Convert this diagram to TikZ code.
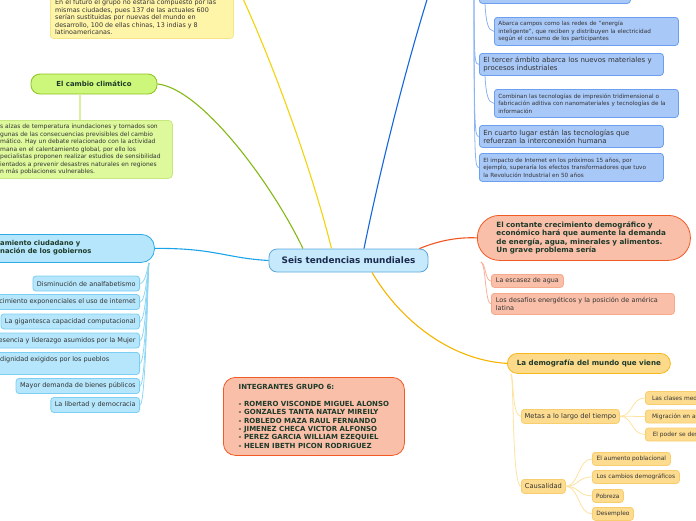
\documentclass[tikz,border=0pt]{standalone}
\usepackage{fontspec}
\setmainfont{DejaVu Sans}
\usetikzlibrary{calc}
\newcommand\fsz[2]{\fontsize{#1}{#2}\selectfont}
\definecolor{cfill}{HTML}{C6EAFC}\definecolor{cdraw}{HTML}{5BA6DD}
\definecolor{ctext}{HTML}{1B2A4E}
\definecolor{yfill}{HTML}{FFF5A8}\definecolor{ydraw}{HTML}{F5E487}\definecolor{ylink}{HTML}{F2D40C}
\definecolor{gfill}{HTML}{CCF77A}\definecolor{gdraw}{HTML}{8DC21F}\definecolor{glink}{HTML}{84B817}
\definecolor{gbfill}{HTML}{DDF99C}\definecolor{gbdraw}{HTML}{C7E77E}\definecolor{gblink}{HTML}{D9EFA3}
\definecolor{sfill}{HTML}{B5E6FB}\definecolor{sdraw}{HTML}{2EAAE6}\definecolor{slink}{HTML}{1AA3E8}
\definecolor{scdraw}{HTML}{7CCFF2}\definecolor{sclink}{HTML}{8FD6F4}
\definecolor{bfill}{HTML}{A8C8F8}\definecolor{bdraw}{HTML}{6B9FF0}\definecolor{blink}{HTML}{1466DD}
\definecolor{bclink}{HTML}{8DB4F2}
\definecolor{ofill}{HTML}{F9BFA9}\definecolor{odraw}{HTML}{F25A24}\definecolor{olink}{HTML}{F05523}
\definecolor{ocdraw}{HTML}{F7A98B}\definecolor{oclink}{HTML}{F7B09A}
\definecolor{afill}{HTML}{FDD98A}\definecolor{adraw}{HTML}{F6B81A}\definecolor{alink}{HTML}{F5B400}
\definecolor{acfill}{HTML}{FDDC90}\definecolor{acdraw}{HTML}{F8CD6E}\definecolor{aclink}{HTML}{FDE2A0}
\definecolor{boldtext}{HTML}{1E3A2A}\definecolor{normtext}{HTML}{333333}
\begin{document}
\begin{tikzpicture}[x=1pt,y=-1pt,
  box/.style={draw, line width=0.8pt, rounded corners=3pt, inner sep=0pt, text=normtext},
  txt/.style={inner sep=0pt, align=left, text=normtext},
  link/.style={line width=1.1pt},
  sublink/.style={line width=0.8pt}]
\useasboundingbox (0,0) rectangle (696,520);

\node[box, fill=cfill, draw=cdraw, rounded corners=8pt, minimum width=159pt, minimum height=23pt,
  text=ctext, font=\bfseries\fsz{8.9}{10}] (c) at (348.5,260.5) {Seis tendencias mundiales};

% yellow box (top left)
\node[box, fill=yfill, draw=ydraw, anchor=north west, minimum width=183pt, minimum height=60pt] (y1) at (50,-22) {};
\node[txt, anchor=north west, font=\fsz{6.4}{7.6}] (y1t) at (55,-0.9)
{En el futuro el grupo no estaría compuesto por las\\
mismas ciudades, pues 137 de las actuales 600\\
serían sustituidas por nuevas del mundo en\\
desarrollo, 100 de ellas chinas, 13 indias y 8\\
latinoamericanas.};
\coordinate (ytop) at (238,-12);

% green
\node[box, fill=gfill, draw=gdraw, rounded corners=9pt, minimum width=126pt, minimum height=20pt,
  text=boldtext, font=\bfseries\fsz{6.9}{8}] (g) at (94,84) {El cambio climático};
\node[box, fill=gbfill, draw=gbdraw, rounded corners=4pt, anchor=north west, minimum width=192pt, minimum height=58pt] (gb) at (-20,120) {};
\node[txt, anchor=north west, font=\fsz{6}{7.5}] (gbt) at (0,123.8)
{s alzas de temperatura inundaciones y tornados son\\
gunas de las consecuencias previsibles del cambio\\
mático. Hay un debate relacionado con la actividad\\
mana en el calentamiento global, por ello los\\
pecialistas proponen realizar estudios de sensibilidad\\
ientados a prevenir desastres naturales en regiones\\
n más poblaciones vulnerables.};
\draw[gblink, line width=1.4pt] (g.south -| 80,0) -- (gb.north -| 80,0);

% cyan
\node[box, fill=sfill, draw=sdraw, rounded corners=13pt, anchor=north west, minimum width=174pt, minimum height=28pt] (s) at (-20,234) {};
\node[txt, anchor=north west, text=boldtext, font=\bfseries\fsz{6.8}{8}] (st) at (0,240.5)
{amiento ciudadano y\\nación de los gobiernos};
\tikzset{schild/.style={box, fill=sfill, draw=scdraw, anchor=east, minimum height=15pt, inner xsep=4pt, font=\fsz{6.5}{7.5}}}
\node[schild] (s1) at (140,283.5) {Disminución de analfabetismo};
\node[schild] (s2) at (140,302) {cimiento exponenciales el uso de internet};
\node[schild] (s3) at (140,321.5) {La gigantesca capacidad computacional};
\node[schild] (s4) at (140,340.5) {esencia y liderazgo asumidos por la Mujer};
\node[box, fill=sfill, draw=scdraw, anchor=north east, minimum width=150pt, minimum height=22pt] (s5) at (140,352) {};
\node[txt, anchor=west, font=\fsz{6.5}{7.5}] (s5t) at (0,360) {dignidad exigidos por los pueblos};
\node[schild] (s6) at (140,386) {Mayor demanda de bienes públicos};
\node[schild] (s7) at (140,405) {La libertad y democracia};
\coordinate (shub) at (149,263);
\foreach \k in {s1,s2,s3,s4,s5,s6,s7}{
  \draw[sclink, sublink] (shub) .. controls (148,{263+0.5}) and (146,0 |- \k.east) .. (\k.east);
}

% blue column
\tikzset{bbox/.style={box, fill=bfill, draw=bdraw, anchor=north west, minimum width=184pt}}
\node[box, fill=bfill, draw=bdraw, anchor=north west, minimum width=151pt, minimum height=23pt] (b0) at (479,-20) {};
\node[bbox, minimum height=28pt, text width=176pt, align=left, font=\fsz{5.7}{7.5}] (b1) at (494,17)
{Abarca campos como las redes de "energía\\ inteligente", que reciben y distribuyen la electricidad\\ según el consumo de los participantes};
\node[bbox, minimum height=22pt, text width=176pt, align=left, font=\fsz{7}{8}] (b2) at (479,53)
{El tercer ámbito abarca los nuevos materiales y\\ procesos industriales};
\node[bbox, minimum height=28pt, text width=176pt, align=left, font=\fsz{5.7}{7.5}] (b3) at (494,89)
{Combinan las tecnologías de impresión tridimensional o\\ fabricación aditiva con nanomateriales y tecnologías de la\\ información};
\node[bbox, minimum height=22pt, text width=176pt, align=left, font=\fsz{7}{8}] (b4) at (479,125)
{En cuarto lugar están las tecnologías que\\ refuerzan la interconexión humana};
\node[bbox, minimum height=28pt, text width=176pt, align=left, font=\fsz{5.7}{7.5}] (b5) at (479,153)
{El impacto de Internet en los próximos 15 años, por\\ ejemplo, superaría los efectos transformadores que tuvo\\ la Revolución Industrial en 50 años};
\coordinate (bhub) at (474,-10);
\foreach \k in {b0,b2,b4,b5}{
  \draw[bclink, sublink] (bhub) .. controls (474,-5 |- \k.west) and (475,0 |- \k.west) .. (\k.west);
}
\draw[bclink, sublink] ([xshift=6pt]b0.south west) .. controls (486,22) and (488,31) .. (b1.west);
\draw[bclink, sublink] ([xshift=6pt]b2.south west) .. controls (486,94) and (488,103) .. (b3.west);

% orange
\node[box, fill=ofill, draw=odraw, rounded corners=22pt, anchor=north west, minimum width=213pt, minimum height=45pt,
  text width=175pt, align=left, text=boldtext, font=\bfseries\fsz{7.2}{8.3}] (o) at (477,215)
{El contante crecimiento demográfico y\\ económico hará que aumente la demanda\\ de energía, agua, minerales y alimentos.\\ Un grave problema sería};
\node[box, fill=ofill, draw=ocdraw, anchor=north west, minimum width=72pt, minimum height=13pt, font=\fsz{6.4}{7}] (o1) at (491,274) {La escasez de agua};
\node[box, fill=ofill, draw=ocdraw, anchor=north west, minimum width=183pt, minimum height=21pt, text width=174pt, align=left, font=\fsz{6.5}{7.8}] (o2) at (491,293)
{Los desafíos energéticos y la posición de américa\\ latina};
\coordinate (ohub) at (481,262);
\foreach \k in {o1,o2}{
  \draw[oclink, sublink] (ohub) .. controls (486,264) and (485,0 |- \k.west) .. (\k.west);
}

% amber
\node[box, fill=afill, draw=adraw, rounded corners=10pt, anchor=north west, minimum width=163pt, minimum height=20pt,
  text=boldtext, font=\bfseries\fsz{7.1}{8}] (a) at (507,353) {La demografía del mundo que viene};
\tikzset{achild/.style={box, fill=acfill, draw=acdraw, anchor=north west, font=\fsz{5.9}{7}}}
\node[achild, minimum width=98pt, minimum height=14pt, font=\fsz{6.7}{7.5}] (m) at (521,409) {Metas a lo largo del tiempo};
\node[achild, minimum width=44pt, minimum height=14pt, font=\fsz{6.7}{7.5}] (k) at (521,479) {Causalidad};
\node[achild, minimum width=60pt, minimum height=13pt, anchor=west, inner xsep=5pt] (m1) at (645,398) {Las clases medi};
\node[achild, minimum width=60pt, minimum height=13pt, anchor=west, inner xsep=5pt] (m2) at (645,416.5) {Migración en as};
\node[achild, minimum width=60pt, minimum height=13pt, anchor=west, inner xsep=5pt] (m3) at (645,434.5) {El poder se des};
\node[achild, minimum width=78pt, minimum height=13pt] (k1) at (592,452) {El aumento poblacional};
\node[achild, minimum width=87pt, minimum height=13pt] (k2) at (592,470) {Los cambios demográficos};
\node[achild, minimum width=31pt, minimum height=13pt] (k3) at (592,489) {Pobreza};
\node[achild, minimum width=41pt, minimum height=13pt] (k4) at (592,507) {Desempleo};
\coordinate (ahub) at (511,374);
\foreach \k in {m,k}{
  \draw[aclink, sublink] (ahub) .. controls (514,380) and (512,0 |- \k.west) .. (\k.west);
}
\foreach \k in {m1,m2,m3}{
  \draw[aclink, sublink] (m.east) .. controls (633,416) and (631,0 |- \k.west) .. (\k.west);
}
\foreach \k in {k1,k2,k3,k4}{
  \draw[aclink, sublink] (k.east) .. controls (579,486) and (578,0 |- \k.west) .. (\k.west);
}

% integrantes
\node[box, fill=ofill, draw=odraw, rounded corners=12pt, anchor=north west, minimum width=181pt, minimum height=78pt,
  align=left, text=boldtext, font=\bfseries\fsz{7}{8.4}] (grp) at (223,377)
{INTEGRANTES GRUPO 6:\\ \mbox{}\\
- ROMERO VISCONDE MIGUEL ALONSO\\
- GONZALES TANTA NATALY MIREILY\\
- ROBLEDO MAZA RAUL FERNANDO\\
- JIMENEZ CHECA VICTOR ALFONSO\\
- PEREZ GARCIA WILLIAM EZEQUIEL\\
- HELEN IBETH PICON RODRIGUEZ};

% main connectors
\coordinate (btop) at (430,-10);
\draw[ylink, link] ([xshift=-17pt]c.north) .. controls (312,170) and (272,60) .. (ytop);
\draw[glink, link] ([xshift=-45.5pt]c.north) .. controls (270,180) and (200,88) .. (g.east);
\draw[blink, link] ([xshift=15.5pt]c.north) .. controls (380,170) and (405,70) .. (btop);
\draw[slink, link] (c.west) .. controls (225,258) and (215,248) .. (s.east);
\draw[olink, link] ([xshift=-9pt]c.north east) .. controls (440,240) and (460,237) .. (o.west);
\draw[alink, link] ([xshift=23.5pt]c.south) .. controls (400,320) and (450,360) .. (a.west);
\end{tikzpicture}
\end{document}
